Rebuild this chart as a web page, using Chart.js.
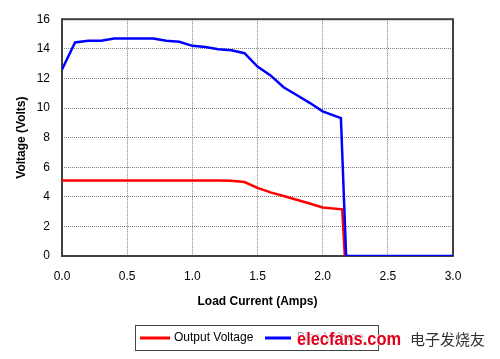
<!DOCTYPE html>
<html>
<head>
<meta charset="utf-8">
<script src="https://cdn.jsdelivr.net/npm/chart.js@4/dist/chart.umd.min.js"></script>
<style>
html,body{margin:0;padding:0;background:#fff;}
#wrap{width:500px;height:359px;position:relative;}
</style>
</head>
<body>
<div id="wrap"><canvas id="c" width="500" height="359"></canvas></div>
<script>
// Data
const outputCurrent = [0, 0.1, 0.2, 0.3, 0.4, 0.5, 0.6, 0.7, 0.8, 0.9, 1.0, 1.1, 1.2, 1.3, 1.4, 1.5, 1.6, 1.7, 1.8, 1.9, 2.0, 2.15, 2.17];
const outputVoltage = [5.1, 5.1, 5.1, 5.1, 5.1, 5.1, 5.1, 5.1, 5.1, 5.1, 5.1, 5.1, 5.1, 5.08, 5.0, 4.6, 4.3, 4.05, 3.8, 3.55, 3.28, 3.15, 0];
const biasCurrent = [0, 0.1, 0.2, 0.3, 0.4, 0.5, 0.6, 0.7, 0.8, 0.9, 1.0, 1.1, 1.2, 1.3, 1.4, 1.5, 1.6, 1.7, 1.8, 1.9, 2.0, 2.14, 2.18, 3.0];
const biasVoltage = [12.6, 14.43, 14.55, 14.55, 14.7, 14.7, 14.7, 14.7, 14.55, 14.48, 14.2, 14.12, 13.97, 13.9, 13.7, 12.8, 12.2, 11.4, 10.88, 10.35, 9.77, 9.32, 0, 0];
const seriesNames = ['Output Voltage', 'Bias Voltage'];
const xTicks = [0, 0.5, 1.0, 1.5, 2.0, 2.5, 3.0];
const yTicks = [0, 2, 4, 6, 8, 10, 12, 14, 16];
const xTitle = 'Load Current (Amps)';
const yTitle = 'Voltage (Volts)';

const FONT = '"Liberation Sans", Arial, sans-serif';

const toPts = (xs, ys) => xs.map((x, i) => ({x: x, y: ys[i]}));

const frame = {
  id: 'frame',
  beforeDatasetsDraw(chart) {
    const {ctx, chartArea: a} = chart;
    ctx.save();
    ctx.strokeStyle = '#404040';
    ctx.lineWidth = 2;
    ctx.strokeRect(a.left, a.top, a.right - a.left, a.bottom - a.top);
    ctx.restore();
  },
  afterDraw(chart) {
    const ctx = chart.ctx;
    const ds = chart.data.datasets;
    ctx.save();
    // legend box
    ctx.strokeStyle = '#444';
    ctx.lineWidth = 1;
    ctx.strokeRect(135.5, 325.5, 243, 25);
    ctx.lineWidth = 3;
    ctx.strokeStyle = ds[0].borderColor;
    ctx.beginPath(); ctx.moveTo(140, 338); ctx.lineTo(170, 338); ctx.stroke();
    ctx.strokeStyle = ds[1].borderColor;
    ctx.beginPath(); ctx.moveTo(265, 338); ctx.lineTo(291, 338); ctx.stroke();
    ctx.font = '12px ' + FONT;
    ctx.textBaseline = 'middle';
    ctx.textAlign = 'left';
    ctx.fillStyle = '#000';
    ctx.fillText(ds[0].label, 174, 338);
    ctx.fillStyle = '#999';
    ctx.fillText(ds[1].label, 297, 338);
    // watermark
    ctx.font = 'bold 18px ' + FONT;
    ctx.textBaseline = 'alphabetic';
    ctx.lineWidth = 2;
    ctx.strokeStyle = 'rgba(255,255,255,0.8)';
    ctx.strokeText('elecfans.com', 297, 345, 104);
    ctx.fillStyle = '#e0001b';
    ctx.fillText('elecfans.com', 297, 345, 104);
    ctx.font = '15px "Noto Sans CJK SC", sans-serif';
    ctx.fillStyle = '#333';
    ctx.textBaseline = 'middle';
    ctx.fillText('电子发烧友', 410, 339, 78);
    ctx.restore();
  }
};

new Chart(document.getElementById('c'), {
  type: 'line',
  data: {
    datasets: [
      {label: seriesNames[0], data: toPts(outputCurrent, outputVoltage), borderColor: '#ff0000', borderWidth: 2.5, pointRadius: 0, tension: 0, order: 1, fill: false},
      {label: seriesNames[1], data: toPts(biasCurrent, biasVoltage), borderColor: '#0000ff', borderWidth: 2.5, pointRadius: 0, tension: 0, order: 0, fill: false}
    ]
  },
  options: {
    responsive: false,
    animation: false,
    events: [],
    layout: {padding: {left: 0, right: 47, top: 16, bottom: 0}},
    plugins: {legend: {display: false}, tooltip: {enabled: false}},
    scales: {
      x: {
        type: 'linear', min: 0, max: 3,
        afterFit(s) { s.height = 103; },
        afterBuildTicks(s) { s.ticks = xTicks.map(v => ({value: v})); },
        ticks: {color: '#000', font: {family: FONT, size: 12}, padding: 13, callback: v => Number(v).toFixed(1), maxRotation: 0},
        grid: {color: '#808080', lineWidth: 1, drawTicks: false},
        border: {display: false, dash: [1, 1]},
        title: {display: true, text: xTitle, color: '#000', font: {family: FONT, size: 12, weight: 'bold'}, padding: {top: 0, bottom: 50}}
      },
      y: {
        type: 'linear', min: 0, max: 16,
        afterFit(s) { s.width = 62; },
        afterBuildTicks(s) { s.ticks = yTicks.map(v => ({value: v})); },
        ticks: {color: '#000', font: {family: FONT, size: 12}, padding: 12},
        grid: {color: '#808080', lineWidth: 1, drawTicks: false},
        border: {display: false, dash: [1, 1]},
        title: {display: true, text: yTitle, color: '#000', font: {family: FONT, size: 12, weight: 'bold'}, padding: {top: 14, bottom: 0}}
      }
    }
  },
  plugins: [frame]
});
</script>
</body>
</html>
